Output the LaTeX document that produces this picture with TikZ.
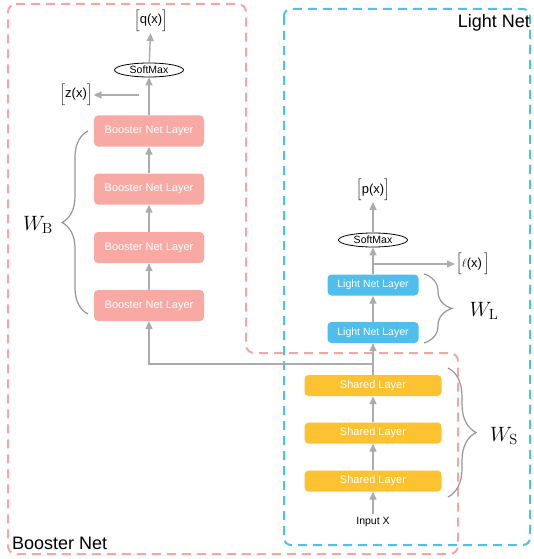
\documentclass[tikz,border=0pt]{standalone}
\usepackage{amsmath}
\usepackage{fontspec}
\newfontfamily\helv{Liberation Sans}
\usetikzlibrary{%
	arrows.meta,%
	shapes.geometric,%
	decorations.pathreplacing
}
\definecolor{boostfill}{RGB}{248,169,164}
\definecolor{lightfill}{RGB}{79,190,236}
\definecolor{sharedfill}{RGB}{252,194,49}
\definecolor{boostdash}{RGB}{246,166,160}
\definecolor{lightdash}{RGB}{77,192,236}
\definecolor{arrowgray}{RGB}{172,172,172}
\definecolor{bracegray}{RGB}{150,150,150}

\begin{document}
\begin{tikzpicture}[x=1pt,y=-1pt,
	layer/.style={rectangle, rounded corners=4pt, text=white, inner sep=0pt},
	boosterlayer/.style={layer, fill=boostfill, minimum width=110pt, minimum height=31pt, font=\helv\fontsize{11}{13}\selectfont},
	lightlayer/.style={layer, fill=lightfill, minimum width=91pt, minimum height=21pt, font=\helv\fontsize{10.5}{12}\selectfont},
	sharedlayer/.style={layer, fill=sharedfill, minimum width=137pt, minimum height=21pt, font=\helv\fontsize{11}{13}\selectfont},
	softmax/.style={ellipse, draw=black, line width=0.8pt, minimum width=69pt, minimum height=14pt, inner sep=0pt, font=\helv\fontsize{10.5}{11}\selectfont},
	outlabel/.style={font=\helv\fontsize{13}{13}\selectfont, inner sep=1pt},
	weight/.style={font=\fontsize{21}{24}\selectfont},
	framelabel/.style={font=\helv\fontsize{18}{20}\selectfont, inner sep=0pt},
	arr/.style={draw=arrowgray, line width=1.4pt, -{Triangle[length=8pt,width=7pt]}},
	brace/.style={draw=bracegray, line width=1.2pt, decorate},
	frame/.style={line width=2pt, dash pattern=on 9pt off 6pt}
	]
	\useasboundingbox (0,0) rectangle (534,559);
	
	% Frames
	\draw[frame, boostdash, rounded corners=8pt] (8,4) -- (246,4) -- (246,353) -- (458,353) -- (458,554) -- (8,554) -- cycle;
	\draw[frame, lightdash, rounded corners=7pt] (284,9) rectangle (530,545);
	\node[framelabel, anchor=west] (BN) at (12,543) {Booster Net};
	\node[framelabel, anchor=east] (LN) at (530,23) {Light Net};
	
	% Nodes: booster net
	\node[boosterlayer] (B1) at (149,131) {Booster Net Layer};
	\node[boosterlayer] (B2) at (149,189) {Booster Net Layer};
	\node[boosterlayer] (B3) at (149,247.5) {Booster Net Layer};
	\node[boosterlayer] (B4) at (149,305.5) {Booster Net Layer};
	\node[softmax] (SB) at (149,70) {SoftMax};
	\node[outlabel] (Q) at (151,21) {$\Bigl[$q(x)$\Bigr]$};
	\node[outlabel] (Z) at (76,95) {$\Bigl[$z(x)$\Bigr]$};
	\coordinate (zsplit) at (139,95);
	
	% Nodes: light net
	\node[lightlayer] (L1) at (373,285) {Light Net Layer};
	\node[lightlayer] (L2) at (373,332.5) {Light Net Layer};
	\node[softmax] (SL) at (373,240) {SoftMax};
	\node[outlabel] (P) at (373,190) {$\Bigl[$p(x)$\Bigr]$};
	\node[outlabel, anchor=west] (LX) at (455,264) {$\Bigl[\ell$(x)\,$\Bigr]$};
	\coordinate (lsplit) at (373,264);
	
	% Nodes: shared layers
	\node[sharedlayer] (S1) at (373,385.5) {Shared Layer};
	\node[sharedlayer] (S2) at (373,433) {Shared Layer};
	\node[sharedlayer] (S3) at (373,481) {Shared Layer};
	\node[font=\helv\fontsize{10.5}{12}\selectfont] (IN) at (373,522) {Input X};
	\coordinate (bsplit) at (373,364);
	
	% Arrows
	\draw[arr] (IN) -- (S3);
	\draw[arr] (S3) -- (S2);
	\draw[arr] (S2) -- (S1);
	\draw[arr] (S1) -- (L2);
	\draw[arr] (bsplit) -| (B4);
	\draw[arr] (L2) -- (L1);
	\draw[arr] (L1) -- (SL);
	\draw[arr] (SL) -- (P);
	\draw[arr] (lsplit) -- (LX);
	\draw[arr] (B4) -- (B3);
	\draw[arr] (B3) -- (B2);
	\draw[arr] (B2) -- (B1);
	\draw[arr] (B1) -- (SB);
	\draw[arr] (SB) -- (Q);
	\draw[arr] (zsplit) -- (Z);
	
	% Braces
	\draw[brace, decoration={brace, amplitude=26pt}] (88,314) -- (88,131);
	\draw[brace, decoration={brace, amplitude=28pt}] (424,274) -- (424,343);
	\draw[brace, decoration={brace, amplitude=28pt}] (448,368) -- (448,497);
	\node[weight] (WB) at (38,225) {$W_{\mathrm{B}}$};
	\node[weight] (WL) at (484,311) {$W_{\mathrm{L}}$};
	\node[weight] (WS) at (504,436) {$W_{\mathrm{S}}$};
\end{tikzpicture}
\end{document}
